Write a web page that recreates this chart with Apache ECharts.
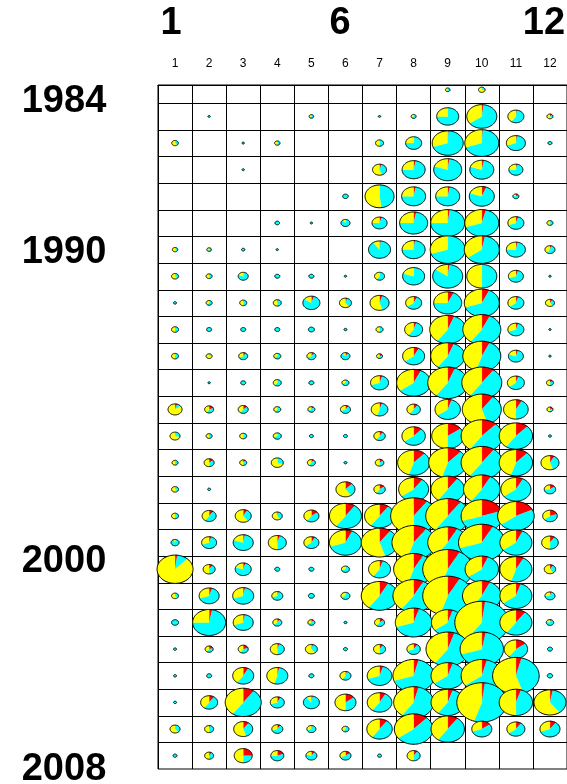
<!DOCTYPE html>
<html><head><meta charset="utf-8">
<script src="https://cdn.jsdelivr.net/npm/echarts@6/dist/echarts.min.js"></script>
<style>html,body{margin:0;padding:0;background:#fff}#c{width:567px;height:784px}</style>
</head><body><div id="c"></div>
<script>
// Columns (months) and rows (years)
const months = ['1','2','3','4','5','6','7','8','9','10','11','12'];
const years = [1984,1985,1986,1987,1988,1989,1990,1991,1992,1993,1994,1995,1996,1997,1998,1999,2000,2001,2002,2003,2004,2005,2006,2007,2008,2009];
const bigMonthLabels = ['1','6','12'];
const yearLabels = ['1984','1990','2000','2008'];

// Pie size value (radius-like), one row per year, one entry per month
const sizes = [
  [0,0,0,0,0,0,0,0,2.3,3.3,0,0],
  [0,1.2,0,0,2.3,0,1.2,2.5,11,15,8,3],
  [3.3,0,1.2,2.7,0,0,4,8,15.5,17,9.5,2],
  [0,0,1.2,0,0,0,7,11.5,14,12,7,0],
  [0,0,0,0,0,2.8,14.5,12,12,12.5,3,0],
  [0,0,0,2.3,1.2,4.5,7.5,14,17,17,8,3],
  [2.7,2.3,1.7,1.2,0,0,11,11.5,17.5,17.5,9.5,5],
  [3.5,3,5,2.5,2.5,1.2,5,11,15,15,7.5,1.2],
  [1.5,3,3.5,4,8.5,6,9.5,8,14,17.5,8,4.5],
  [3.5,2.5,2.5,2.5,3,1.5,3.5,9,18,19,8,1.2],
  [3.5,3,4.5,3.5,4.5,4.5,3,11,17,19,7.5,1.2],
  [0,1.2,2.5,4,2.5,3.5,9,17,20,20,8.5,3.5],
  [7,4.5,5,3.5,3.5,5,8.3,6.7,12.7,19.5,12.3,3],
  [5,3,3.5,4,2,2,5.7,11.7,16,20.7,16.7,1.5],
  [3,5,3.5,6,4,1.5,4.3,16,19,20.7,16.7,9],
  [3.5,1.5,0,0,0,9.5,5.7,15,16.7,18.3,15,5.7],
  [3.5,7,8,5,7.5,16,15,23,22,20.7,18.3,7.3],
  [4,7.5,10,9,7.5,16,18.3,21.7,20,23.3,16,8.3],
  [18,6,8,2.5,2.5,4,11,20,25,16.7,16,5.7],
  [3.5,10,10.5,5.5,3,4.5,18.3,20.7,25,19.3,16,5],
  [3.5,16.5,10,4.5,3.5,1.5,5,18.3,16.3,27,16,3.7],
  [1.5,4,5,7,6,2,6,6.7,21.7,21.7,11.7,2.5],
  [1.5,2.5,10.5,10.5,2.5,5.5,12.3,20.7,16.7,20.7,23.3,2.7],
  [1.5,8.5,18,7,8,10.5,12.3,20,16.7,25,16.7,16],
  [5,4.5,9.5,5.5,4.5,3.5,12.7,19.3,16.7,10,9,10],
  [2,4.5,9,6.5,5.5,5.5,2,6.5,0,0,0,0]
];
// Share (%) of the yellow component
const yellowPct = [
  [0,0,0,0,0,0,0,0,40,70,0,0],
  [0,0,0,0,30,0,0,30,25,35,40,60],
  [60,0,0,50,0,0,50,25,30,30,30,0],
  [0,0,0,0,0,0,55,25,20,20,25,0],
  [0,0,0,0,0,0,52,25,25,20,20,0],
  [0,0,0,0,0,10,25,25,25,30,30,50],
  [60,40,0,0,0,0,10,25,30,35,25,40],
  [60,50,20,0,0,0,40,20,15,50,30,0],
  [0,40,50,50,15,60,55,35,25,30,35,60],
  [50,0,0,0,0,0,50,40,40,40,30,0],
  [50,80,30,30,30,10,40,35,40,45,20,0],
  [0,0,0,40,0,30,30,35,40,40,35,50],
  [85,40,40,40,30,30,45,40,35,55,50,50],
  [70,50,50,30,0,0,40,35,50,40,40,0],
  [50,50,50,70,40,0,50,45,45,40,45,55],
  [60,0,0,0,0,60,40,35,40,40,35,25],
  [50,40,60,60,40,40,40,50,40,30,35,35],
  [5,30,20,50,35,30,55,45,40,30,35,50],
  [88,50,20,0,0,30,40,45,45,35,45,60],
  [60,30,30,30,0,30,40,40,45,40,35,25],
  [0,25,30,35,30,0,40,30,35,40,40,20],
  [0,40,40,50,60,0,50,30,40,30,40,0],
  [0,0,40,45,0,40,30,30,35,35,55,0],
  [0,40,40,30,10,50,40,40,40,45,50,60],
  [60,50,55,30,30,40,40,35,40,30,35,30],
  [0,50,50,25,20,30,0,50,0,0,0,0]
];
// Share (%) of the red component (cyan is the remainder)
const redPct = [
  [0,0,0,0,0,0,0,0,0,0,0,0],
  [0,0,0,0,0,0,0,0,0,2,2,15],
  [0,0,0,0,0,0,0,0,1,1,2,0],
  [0,0,0,0,0,0,5,3,2,3,3,0],
  [0,0,0,0,0,0,0,3,3,6,20,0],
  [0,0,0,0,0,0,5,3,2,4,5,0],
  [0,0,0,0,0,0,2,2,0,3,3,5],
  [0,0,0,0,0,0,0,0,2,0,5,0],
  [0,0,0,5,5,5,5,7,7,7,5,10],
  [0,0,0,0,0,0,0,5,6,7,5,0],
  [0,0,10,0,10,10,20,8,6,7,5,0],
  [0,0,0,0,0,0,5,7,6,10,5,15],
  [5,20,15,0,10,10,5,10,5,10,8,20],
  [0,0,0,0,0,0,10,12,15,12,12,0],
  [0,15,10,0,10,0,15,12,12,10,12,8],
  [0,0,0,0,0,12,15,10,10,8,8,15],
  [0,10,8,5,15,10,10,10,10,20,18,20],
  [0,5,3,5,8,7,10,10,8,8,7,10],
  [2,10,5,0,0,0,5,8,8,6,8,10],
  [0,5,3,5,0,0,8,8,8,7,5,5],
  [0,3,3,10,10,0,15,5,5,2,10,5],
  [0,20,20,5,5,0,10,10,5,3,15,0],
  [0,0,8,3,0,5,5,4,5,4,4,0],
  [0,10,10,8,3,15,8,4,5,2,5,3],
  [0,5,10,10,5,0,10,12,10,15,10,10],
  [0,10,25,20,10,15,0,10,0,0,0,0]
];

const RED = '#ff0000', CYAN = '#00ffff', YELLOW = '#ffff00';

const pieData = [];
years.forEach((yr, r) => {
  months.forEach((m, c) => {
    if (sizes[r][c] > 0) pieData.push([c, r, sizes[r][c], yellowPct[r][c], redPct[r][c]]);
  });
});
const rowLines = years.slice(0, -1).map((y, i) => [0, i + 0.5]);

function renderPie(params, api) {
  const ctr = api.coord([api.value(0), api.value(1)]);
  const band = api.size([1, 0])[0];
  const rx = api.value(2) * band / 34.1;
  const ry = rx / 1.27;
  const yp = api.value(3) / 100, rp = api.value(4) / 100;
  const slices = [[rp, RED], [1 - yp - rp, CYAN], [yp, YELLOW]];
  const children = [];
  let a = -Math.PI / 2;
  for (const [f, col] of slices) {
    if (f <= 0) continue;
    const a1 = a + f * 2 * Math.PI;
    const n = Math.max(3, Math.ceil(f * 90));
    const pts = [[ctr[0], ctr[1]]];
    for (let k = 0; k <= n; k++) {
      const t = a + (a1 - a) * k / n;
      pts.push([ctr[0] + rx * Math.cos(t), ctr[1] + ry * Math.sin(t)]);
    }
    children.push({ type: 'polygon', shape: { points: pts }, style: { fill: col, stroke: col, lineWidth: 0.3 } });
    a = a1;
  }
  const outline = [];
  for (let k = 0; k < 90; k++) {
    const t = k / 90 * 2 * Math.PI;
    outline.push([ctr[0] + rx * Math.cos(t), ctr[1] + ry * Math.sin(t)]);
  }
  children.push({ type: 'polygon', shape: { points: outline }, style: { fill: null, stroke: '#000', lineWidth: 1 } });
  return { type: 'group', children };
}

function renderRowLine(params, api) {
  const cs = params.coordSys;
  const y = Math.round(api.coord([0, api.value(1)])[1]) + 0.5;
  return { type: 'line', shape: { x1: cs.x, y1: y, x2: cs.x + cs.width, y2: y }, style: { stroke: '#000', lineWidth: 1 } };
}

const chart = echarts.init(document.getElementById('c'), null, { renderer: 'canvas' });
const bigFont = 'bold 38px "Liberation Sans", Arial, sans-serif';
chart.setOption({
  animation: false,
  backgroundColor: '#fff',
  grid: { left: 158, top: 85, width: 409, height: 684, show: true, borderColor: '#000', borderWidth: 1, backgroundColor: 'transparent' },
  xAxis: {
    type: 'category', data: months, position: 'top', boundaryGap: true,
    axisLine: { show: true, onZero: false, lineStyle: { color: '#000' } },
    axisTick: { show: false },
    axisLabel: { color: '#000', fontSize: 12, fontFamily: '"Liberation Sans", Arial, sans-serif', margin: 15, interval: 0 },
    splitLine: { show: true, interval: 0, lineStyle: { color: '#000', width: 1 } }
  },
  yAxis: {
    type: 'value', inverse: true, min: -0.18, max: 25.5, show: false
  },
  graphic: [
    { type: 'text', x: 171, y: 24, style: { text: bigMonthLabels[0], font: bigFont, fill: '#000', align: 'center', verticalAlign: 'middle' } },
    { type: 'text', x: 340, y: 24, style: { text: bigMonthLabels[1], font: bigFont, fill: '#000', align: 'center', verticalAlign: 'middle' } },
    { type: 'text', x: 544, y: 24, style: { text: bigMonthLabels[2], font: bigFont, fill: '#000', align: 'center', verticalAlign: 'middle' } },
    { type: 'text', x: 64, y: 102, style: { text: yearLabels[0], font: bigFont, fill: '#000', align: 'center', verticalAlign: 'middle' } },
    { type: 'text', x: 64, y: 253, style: { text: yearLabels[1], font: bigFont, fill: '#000', align: 'center', verticalAlign: 'middle' } },
    { type: 'text', x: 64, y: 562, style: { text: yearLabels[2], font: bigFont, fill: '#000', align: 'center', verticalAlign: 'middle' } },
    { type: 'text', x: 64, y: 770, style: { text: yearLabels[3], font: bigFont, fill: '#000', align: 'center', verticalAlign: 'middle' } }
  ],
  series: [
    { type: 'custom', name: 'rows', data: rowLines, encode: { x: 0, y: 1 }, renderItem: renderRowLine, silent: true, z: 1 },
    { type: 'custom', name: 'pies', data: pieData, encode: { x: 0, y: 1 }, renderItem: renderPie, clip: false, z: 2 }
  ]
});
</script>
</body></html>
